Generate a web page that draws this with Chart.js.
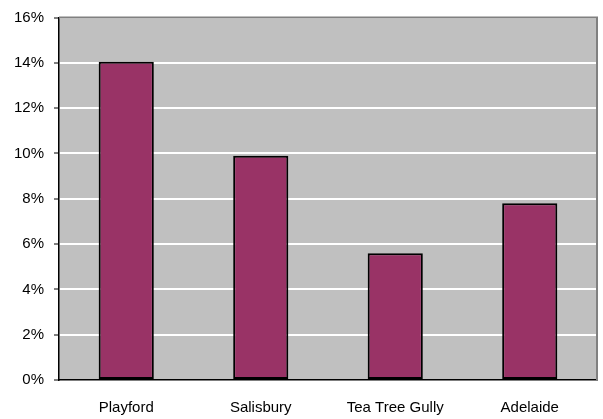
<!DOCTYPE html>
<html>
<head>
<meta charset="utf-8">
<script src="https://cdn.jsdelivr.net/npm/chart.js@4/dist/chart.umd.min.js"></script>
<style>
  body { margin: 0; background: #fff; }
  #wrap { width: 603px; height: 419px; }
</style>
</head>
<body>
<div id="wrap"><canvas id="chart" width="603" height="419"></canvas></div>
<script>
// data
let regions = ['Playford', 'Salisbury', 'Tea Tree Gully', 'Adelaide'];
let shares = [14.05, 9.9, 5.6, 7.8];
let yTicks = [0, 2, 4, 6, 8, 10, 12, 14, 16];

// grey plot area + grey frame on top and right
let plotArea = {
    id: 'plotArea',
    beforeDraw: function (chart) {
        let a = chart.chartArea;
        let ctx = chart.ctx;
        ctx.save();
        ctx.fillStyle = '#c0c0c0';
        ctx.fillRect(a.left, a.top, a.right - a.left, a.bottom - a.top);
        ctx.restore();
    },
    afterDraw: function (chart) {
        let a = chart.chartArea;
        let ctx = chart.ctx;
        ctx.save();
        ctx.strokeStyle = '#808080';
        ctx.lineWidth = 2;
        ctx.beginPath();
        ctx.moveTo(a.left, a.top);
        ctx.lineTo(a.right, a.top);
        ctx.lineTo(a.right, a.bottom);
        ctx.stroke();
        ctx.restore();
    }
};

const ctx = document.getElementById('chart');

new Chart(ctx, {
    type: 'bar',
    data: {
        labels: regions,
        datasets: [{
            data: shares,
            backgroundColor: '#993366',
            borderColor: '#000000',
            borderWidth: 2,
            borderSkipped: false,
            categoryPercentage: 1,
            barPercentage: 0.41
        }]
    },
    options: {
        responsive: false,
        animation: false,
        layout: { padding: { top: 15, right: 6, left: 0, bottom: 0 } },
        plugins: {
            legend: { display: false },
            tooltip: { enabled: false }
        },
        scales: {
            x: {
                grid: { display: false },
                border: { color: '#000000', width: 1.5 },
                ticks: {
                    color: '#000000',
                    padding: 11,
                    font: { family: 'Liberation Sans', size: 15 }
                },
                afterFit: function (s) { s.height = 39; }
            },
            y: {
                min: 0,
                max: 16,
                afterBuildTicks: function (s) {
                    s.ticks = yTicks.map(v => ({ value: v }));
                },
                grid: {
                    color: '#ffffff',
                    lineWidth: 2,
                    tickColor: '#000000',
                    tickLength: 5,
                    tickWidth: 1
                },
                border: { color: '#000000', width: 1.5 },
                ticks: {
                    color: '#000000',
                    padding: 10,
                    font: { family: 'Liberation Sans', size: 15, lineHeight: 1 },
                    callback: function (v) { return v + '%'; }
                },
                afterFit: function (s) { s.width = 59; }
            }
        }
    },
    plugins: [plotArea]
});
</script>
</body>
</html>
